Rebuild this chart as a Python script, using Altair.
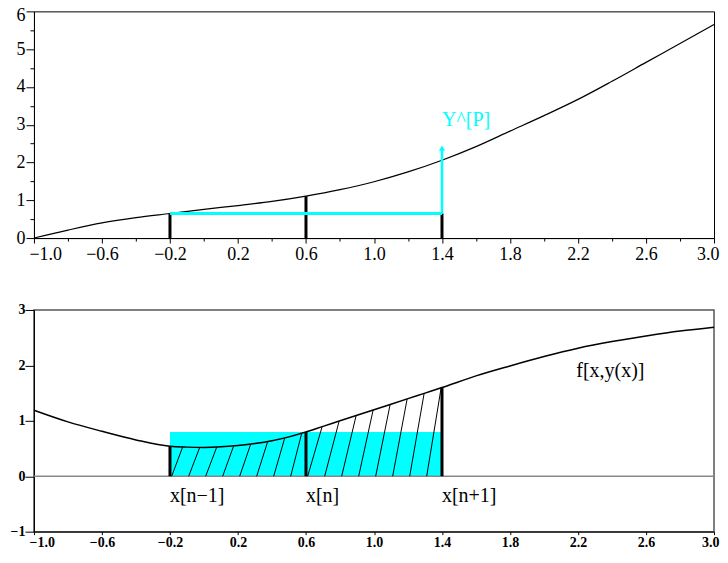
import altair as alt
import pandas as pd

SERIF = "Liberation Serif"
CYAN = "#00ffff"

# ---------------- data ----------------
x_ticks = [-1.0, -0.6, -0.2, 0.2, 0.6, 1.0, 1.4, 1.8, 2.2, 2.6, 3.0]
x_minor = [-0.8, -0.4, 0.0, 0.4, 0.8, 1.2, 1.6, 2.0, 2.4, 2.8]
y_top_ticks = [0, 1, 2, 3, 4, 5, 6]
y_top_minor = [0.5, 1.5, 2.5, 3.5, 4.5, 5.5]
y_bot_ticks = [-1, 0, 1, 2, 3]

# top panel: solution curve y(x)
top_x = [-1.0, -0.8, -0.6, -0.4, -0.2, 0.0, 0.2, 0.4, 0.6, 0.8, 1.0,
         1.2, 1.4, 1.6, 1.8, 2.0, 2.2, 2.4, 2.6, 2.8, 3.0]
top_y = [0.0, 0.21, 0.40, 0.54, 0.65, 0.76, 0.86, 0.97, 1.11, 1.28, 1.49,
         1.75, 2.06, 2.42, 2.83, 3.24, 3.67, 4.15, 4.65, 5.15, 5.65]

nodes_x = [-0.2, 0.6, 1.4]
top_nodes_y = [0.65, 1.11, 0.65]
pred_level = 0.65
pred_tip = 2.38
pred_label = "Y^[P]"
pred_label_y = 3.12

# bottom panel: f[x, y(x)]
bot_x = [-1.0, -0.8, -0.6, -0.4, -0.2, -0.1, 0.0, 0.1, 0.2, 0.3, 0.4, 0.5,
         0.6, 0.7, 0.8, 0.9, 1.0, 1.1, 1.2, 1.3, 1.4, 1.6, 1.8, 2.0, 2.2,
         2.4, 2.6, 2.8, 3.0]
bot_y = [1.19, 0.98, 0.81, 0.655, 0.54, 0.525, 0.52, 0.53, 0.555, 0.59, 0.64,
         0.71, 0.80, 0.90, 1.00, 1.10, 1.20, 1.30, 1.40, 1.50, 1.60, 1.81,
         1.99, 2.16, 2.31, 2.43, 2.53, 2.62, 2.69]
bot_nodes_y = [0.54, 0.80, 1.60]
rect_x0 = [-0.2]
rect_x1 = [1.4]
rect_top = [0.80]

hatch_x0 = [-0.19, -0.09, 0.01, 0.11, 0.21, 0.31, 0.41, 0.51,
            0.61, 0.71, 0.81, 0.91, 1.01, 1.11, 1.21, 1.31]
hatch_x1 = [-0.125, -0.025, 0.075, 0.175, 0.275, 0.375, 0.475, 0.575,
            0.695, 0.795, 0.895, 0.995, 1.095, 1.195, 1.295, 1.395]
hatch_y1 = [0.53, 0.52, 0.525, 0.55, 0.58, 0.627, 0.69, 0.775,
            0.895, 0.995, 1.095, 1.195, 1.295, 1.395, 1.495, 1.595]

node_labels = ["x[n\u22121]", "x[n]", "x[n+1]"]
node_label_y = -0.36
f_label = "f[x,y(x)]"
f_label_x = 2.19
f_label_y = 1.89

# ---------------- layout ----------------
W = 681
H_TOP = 227
H_BOT = 222

xs = alt.Scale(domain=[-1, 3], nice=False, zero=False)
ys_top = alt.Scale(domain=[0, 6], nice=False, zero=False)
ys_bot = alt.Scale(domain=[-1, 3], nice=False, zero=False)

# ---- top panel axes
ax_top_x = alt.Axis(values=x_ticks, format=".1f", orient="bottom", title=None, grid=False,
                    labelFont=SERIF, labelFontSize=18, labelColor="black",
                    tickSize=5, tickColor="black", domainColor="black",
                    labelPadding=2, labelFlush=True, labelFlushOffset=5)
ax_top_y = alt.Axis(values=y_top_ticks, format="d", orient="left", title=None, grid=False,
                    labelFont=SERIF, labelFontSize=18, labelColor="black",
                    tickSize=8, tickColor="black", domainColor="black",
                    labelPadding=1,
                    labelOffset={"condition": {"test": "datum.value == 6", "value": 4}, "value": 0})
ax_top_x_minor = alt.Axis(values=x_minor, orient="bottom", title=None, grid=False,
                          labels=False, domain=False, tickSize=3, tickColor="black")
ax_top_y_minor = alt.Axis(values=y_top_minor, orient="left", title=None, grid=False,
                          labels=False, domain=False, tickSize=4, tickColor="black")

df_top = pd.DataFrame({"x": top_x, "y": top_y})
df_nodes_top = pd.DataFrame({"x": nodes_x, "y0": [0, 0, 0], "y1": top_nodes_y})
df_pred = pd.DataFrame({"x0": [nodes_x[0]], "x1": [nodes_x[2]], "y": [pred_level]})
df_arrow = pd.DataFrame({"x": [nodes_x[2]], "y0": [pred_level], "y1": [pred_tip]})
df_pred_lbl = pd.DataFrame({"x": [nodes_x[2]], "y": [pred_label_y], "t": [pred_label]})

curve_top = alt.Chart(df_top).mark_line(color="black", strokeWidth=1.2, interpolate="monotone").encode(
    x=alt.X("x:Q", scale=xs, axis=ax_top_x),
    y=alt.Y("y:Q", scale=ys_top, axis=ax_top_y),
)
minor_top = alt.Chart(df_top).mark_point(opacity=0).encode(
    x=alt.X("x:Q", scale=xs, axis=ax_top_x_minor),
    y=alt.Y("y:Q", scale=ys_top, axis=ax_top_y_minor),
)
bars_top = alt.Chart(df_nodes_top).mark_rule(color="black", strokeWidth=3).encode(
    x=alt.X("x:Q", axis=None), y=alt.Y("y0:Q", axis=None), y2="y1:Q")
pred_line = alt.Chart(df_pred).mark_rule(color=CYAN, strokeWidth=3).encode(
    x=alt.X("x0:Q", axis=None), x2="x1:Q", y=alt.Y("y:Q", axis=None))
arrow_line = alt.Chart(df_arrow).mark_rule(color=CYAN, strokeWidth=2.5).encode(
    x=alt.X("x:Q", axis=None), y=alt.Y("y0:Q", axis=None), y2="y1:Q")
arrow_head = alt.Chart(df_arrow).mark_point(shape="triangle-up", filled=True, color=CYAN,
                                            opacity=1, size=40).encode(
    x=alt.X("x:Q", axis=None), y=alt.Y("y1:Q", axis=None))
pred_text = alt.Chart(df_pred_lbl).mark_text(align="left", baseline="middle", font=SERIF,
                                             fontSize=20, color=CYAN).encode(
    x=alt.X("x:Q", axis=None), y=alt.Y("y:Q", axis=None), text="t:N")

top = alt.layer(curve_top, minor_top, bars_top, pred_line, arrow_line, arrow_head, pred_text).resolve_axis(
    x="independent", y="independent"
).properties(width=W, height=H_TOP, view=alt.ViewBackground(stroke="black", strokeWidth=1))

# ---- bottom panel
ax_bot_x = alt.Axis(values=x_ticks, format=".1f", orient="bottom", title=None, grid=False,
                    labelFont=SERIF, labelFontSize=14, labelFontWeight="bold", labelColor="black",
                    tickSize=3, tickColor="black", domainColor="black",
                    labelPadding=1, labelFlush=True, labelFlushOffset=5)
ax_bot_y = alt.Axis(values=y_bot_ticks, format="d", orient="left", title=None, grid=False,
                    labelFont=SERIF, labelFontSize=14, labelFontWeight="bold", labelColor="black",
                    tickSize=9, tickColor="black", domainColor="black", labelPadding=0)

df_bot = pd.DataFrame({"x": bot_x, "y": bot_y})
df_rect = pd.DataFrame({"x0": rect_x0, "x1": rect_x1, "y0": [0], "y1": rect_top})
df_hatch = pd.DataFrame({"x0": hatch_x0, "x1": hatch_x1, "y0": [0] * len(hatch_x0), "y1": hatch_y1})
df_nodes_bot = pd.DataFrame({"x": nodes_x, "y0": [0, 0, 0], "y1": bot_nodes_y})
df_node_lbl = pd.DataFrame({"x": nodes_x, "y": [node_label_y] * 3, "t": node_labels})
df_f_lbl = pd.DataFrame({"x": [f_label_x], "y": [f_label_y], "t": [f_label]})

rect = alt.Chart(df_rect).mark_rect(color=CYAN).encode(
    x=alt.X("x0:Q", scale=xs, axis=ax_bot_x),
    x2="x1:Q",
    y=alt.Y("y0:Q", scale=ys_bot, axis=ax_bot_y),
    y2="y1:Q",
)
zero = alt.Chart(df_rect).mark_rule(color="#888888", strokeWidth=1.5).encode(y=alt.datum(0))
hatch = alt.Chart(df_hatch).mark_rule(color="black", strokeWidth=1).encode(
    x="x0:Q", x2="x1:Q", y="y0:Q", y2="y1:Q")
curve_bot = alt.Chart(df_bot).mark_line(color="black", strokeWidth=1.5, interpolate="monotone").encode(
    x="x:Q", y="y:Q")
bars_bot = alt.Chart(df_nodes_bot).mark_rule(color="black", strokeWidth=3).encode(
    x="x:Q", y="y0:Q", y2="y1:Q")
node_text = alt.Chart(df_node_lbl).mark_text(align="left", baseline="middle", font=SERIF,
                                             fontSize=20, color="black").encode(
    x="x:Q", y="y:Q", text="t:N")
f_text = alt.Chart(df_f_lbl).mark_text(align="left", baseline="middle", font=SERIF,
                                       fontSize=20, color="black").encode(
    x="x:Q", y="y:Q", text="t:N")

bottom = alt.layer(rect, zero, hatch, curve_bot, bars_bot, node_text, f_text).properties(
    width=W, height=H_BOT, view=alt.ViewBackground(stroke="#555555", strokeWidth=1.5))

chart = alt.vconcat(top, bottom, spacing=38).properties(
    padding={"left": 1, "top": -3, "right": 0, "bottom": -3}
).configure(background="white")

chart.save("out.html", embed_options={"renderer": "svg", "actions": False})
